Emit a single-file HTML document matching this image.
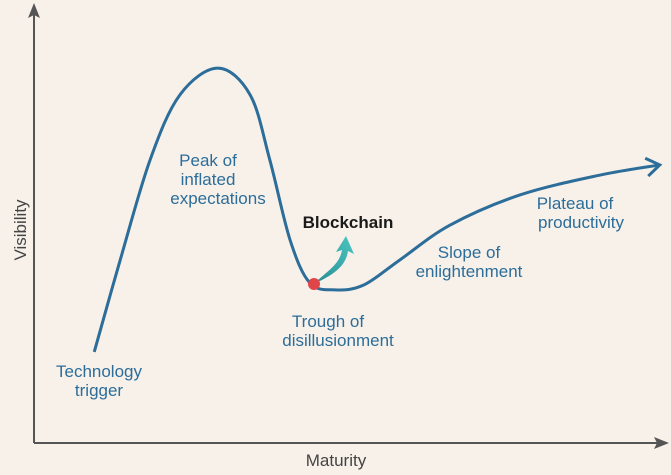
<!DOCTYPE html>
<html><head><meta charset="utf-8"><style>
body{margin:0;background:#f7f1ea;}
svg{display:block;font-family:"Liberation Sans",sans-serif;}
</style></head><body>
<svg width="671" height="475">
<defs><linearGradient id="tg" x1="0" y1="1" x2="1" y2="0"><stop offset="0" stop-color="#2a8f95"/><stop offset="1" stop-color="#4cc6c2"/></linearGradient></defs>
<rect width="671" height="475" fill="#f7f1ea"/>
<g id="axes">
<line x1="34" y1="12" x2="34" y2="443" stroke="#555" stroke-width="2"/>
<polygon points="34,3 28,18 34,15 40,18" fill="#555"/>
<line x1="34" y1="443" x2="660" y2="443" stroke="#555" stroke-width="2"/>
<polygon points="669,443 654,437 657,443 654,449" fill="#555"/>
<text x="336" y="466" font-size="17" fill="#444" text-anchor="middle">Maturity</text>
<text x="26" y="230" font-size="17" fill="#444" text-anchor="middle" transform="rotate(-90 26 230)">Visibility</text>
</g>
<g id="plot"></g>
<g fill="#2c6d99" font-size="17" text-anchor="middle">
<text x="99" y="377"><tspan x="99">Technology</tspan><tspan x="99" dy="19">trigger</tspan></text>
<text x="218" y="166"><tspan x="208">Peak of</tspan><tspan x="208" dy="19">inflated</tspan><tspan x="218" dy="19">expectations</tspan></text>
<text x="328" y="327"><tspan x="328">Trough of</tspan><tspan x="338" dy="19">disillusionment</tspan></text>
<text x="469" y="258"><tspan x="469">Slope of</tspan><tspan x="469" dy="19">enlightenment</tspan></text>
<text x="581" y="209"><tspan x="575">Plateau of</tspan><tspan x="581" dy="19">productivity</tspan></text>
</g>
<text x="348" y="228" font-size="17" font-weight="bold" fill="#1a1a1a" text-anchor="middle">Blockchain</text>
<path d="M318,280 C332,268 340,262 342,250 L336,252 L346,236 L354,254 L348,251 C346,266 334,274 318,282 Z" fill="url(#tg)"/>
<circle cx="314" cy="284" r="6" fill="#e0454a"/>
</svg>
<script>
const maturity = [9.5, 13.6, 18.3, 23.0, 29.0, 34.1, 37.2, 40.4, 43.5, 47.5, 52.0, 57.7, 65.6, 76.7, 89.3, 98.7];
const visibility = [20.7, 41.6, 64.3, 79.1, 85.2, 79.1, 64.3, 46.1, 36.4, 34.8, 35.9, 41.6, 49.5, 56.4, 60.9, 63.2];
const sx = v => 34 + v * 6.34;
const sy = v => 443 - v * 4.4;
const pts = maturity.map((m, i) => [sx(m), sy(visibility[i])]);
let d = 'M' + pts[0][0] + ',' + pts[0][1];
for (let i = 0; i < pts.length - 1; i++) {
  const p0 = pts[Math.max(0, i - 1)], p1 = pts[i], p2 = pts[i + 1], p3 = pts[Math.min(pts.length - 1, i + 2)];
  const c1 = [p1[0] + (p2[0] - p0[0]) / 6, p1[1] + (p2[1] - p0[1]) / 6];
  const c2 = [p2[0] - (p3[0] - p1[0]) / 6, p2[1] - (p3[1] - p1[1]) / 6];
  d += ' C' + c1 + ' ' + c2 + ' ' + p2;
}
const ns = 'http://www.w3.org/2000/svg';
const g = document.getElementById('plot');
const path = document.createElementNS(ns, 'path');
path.setAttribute('d', d);
path.setAttribute('fill', 'none');
path.setAttribute('stroke', '#2c6d99');
path.setAttribute('stroke-width', '3');


g.appendChild(path);
const n = pts.length, e = pts[n - 1], b = pts[n - 2];
const ang = Math.atan2(e[1] - b[1], e[0] - b[0]);
const L = 16, w = 0.6;
const head = document.createElementNS(ns, 'polyline');
head.setAttribute('points', [[e[0] - L * Math.cos(ang - w), e[1] - L * Math.sin(ang - w)], e, [e[0] - L * Math.cos(ang + w), e[1] - L * Math.sin(ang + w)]].map(p => p.join(',')).join(' '));
head.setAttribute('fill', 'none');
head.setAttribute('stroke', '#2c6d99');
head.setAttribute('stroke-width', '3');


g.appendChild(head);
</script>
</body></html>
